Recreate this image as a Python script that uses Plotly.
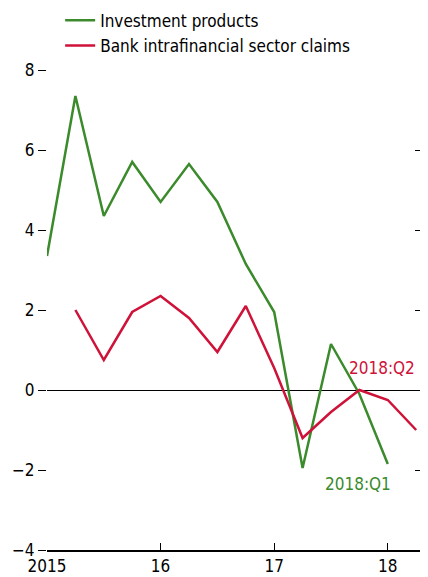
import plotly.graph_objects as go

# quarterly dates (decimal years) and values
quarters = [2015.0, 2015.25, 2015.5, 2015.75, 2016.0, 2016.25, 2016.5, 2016.75,
            2017.0, 2017.25, 2017.5, 2017.75, 2018.0, 2018.25]
investment = [3.35, 7.35, 4.35, 5.7, 4.7, 5.65, 4.7, 3.15,
              1.95, -1.95, 1.15, -0.1, -1.85, None]
bank_claims = [None, 2.0, 0.75, 1.95, 2.35, 1.8, 0.95, 2.1,
               0.55, -1.2, -0.55, 0.0, -0.25, -1.0]
year_ticks = [2015, 2016, 2017, 2018]
year_labels = ["2015", "16", "17", "18"]
y_ticks = [-4, -2, 0, 2, 4, 6, 8]

GREEN = "#3B8A2C"
RED = "#CF1239"
FONT = "Liberation Sans Narrow, Arial Narrow, DejaVu Sans Condensed, sans-serif"

fig = go.Figure()
fig.add_trace(go.Scatter(x=quarters, y=investment, name="Investment products",
                         mode="lines", line=dict(color=GREEN, width=2.5)))
fig.add_trace(go.Scatter(x=quarters, y=bank_claims, name="Bank intrafinancial sector claims",
                         mode="lines", line=dict(color=RED, width=2.5)))
# invisible trace to carry the right-hand tick marks
fig.add_trace(go.Scatter(x=[quarters[0]], y=[0], yaxis="y2", showlegend=False,
                         mode="markers", marker=dict(opacity=0), hoverinfo="skip"))

fig.add_annotation(x=2017.95, y=0.55, text="2018:Q2", showarrow=False,
                   font=dict(color=RED, size=17, family=FONT))
fig.add_annotation(x=2017.74, y=-2.35, text="2018:Q1", showarrow=False,
                   font=dict(color=GREEN, size=17, family=FONT))

# page body has an 8px margin, so the figure is a bit smaller than the window
fig.update_layout(
    width=420, height=569,
    margin=dict(l=39, r=5, t=62, b=27, autoexpand=False),
    paper_bgcolor="white", plot_bgcolor="white",
    font=dict(family=FONT, size=17, color="black"),
    legend=dict(x=0.035, y=1.14, xanchor="left", yanchor="top",
                bgcolor="rgba(0,0,0,0)", tracegroupgap=0,
                font=dict(size=17)),
    xaxis=dict(range=[2015, 2018.31], tickvals=year_ticks, ticktext=year_labels,
               showgrid=False, zeroline=False, showline=True, linecolor="black",
               linewidth=1.5, ticks="inside", ticklen=7, tickcolor="black",
               ticklabelstandoff=0),
    yaxis=dict(range=[-4, 8], tickvals=y_ticks, showgrid=False,
               zeroline=True, zerolinecolor="black", zerolinewidth=1,
               showline=False, ticks="outside", ticklen=8, tickcolor="black",
               tickwidth=1.2),
    yaxis2=dict(range=[-4, 8], tickvals=y_ticks, overlaying="y", side="right",
                showgrid=False, zeroline=False, showline=False, showticklabels=False,
                ticks="inside", ticklen=8, tickcolor="black", tickwidth=1.2),
)

fig.write_html("out.html")
